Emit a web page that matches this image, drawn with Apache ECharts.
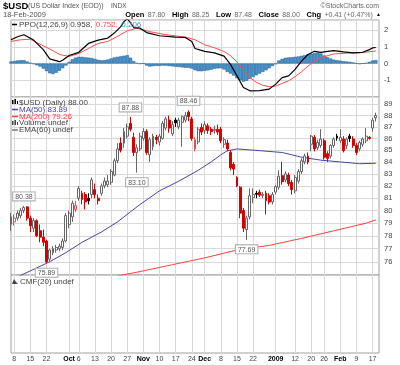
<!DOCTYPE html>
<html><head><meta charset="utf-8">
<script src="https://cdn.jsdelivr.net/npm/echarts@6/dist/echarts.min.js"></script>
<style>html,body{margin:0;padding:0;background:#fff}#c{width:400px;height:365px}</style>
</head><body><div id="c"></div>
<script>
// ---------- categories (trading days, Sep 5 2008 .. Feb 18 2009, plus one empty pad day) ----------
const dates = [
'09-05','09-08','09-09','09-10','09-11','09-12','09-15','09-16','09-17','09-18','09-19','09-22','09-23','09-24','09-25','09-26','09-29','09-30',
'10-01','10-02','10-03','10-06','10-07','10-08','10-09','10-10','10-13','10-14','10-15','10-16','10-17','10-20','10-21','10-22','10-23','10-24','10-27','10-28','10-29','10-30','10-31',
'11-03','11-04','11-05','11-06','11-07','11-10','11-11','11-12','11-13','11-14','11-17','11-18','11-19','11-20','11-21','11-24','11-25','11-26','11-28',
'12-01','12-02','12-03','12-04','12-05','12-08','12-09','12-10','12-11','12-12','12-15','12-16','12-17','12-18','12-19','12-22','12-23','12-24','12-26','12-29','12-30','12-31',
'01-02','01-05','01-06','01-07','01-08','01-09','01-12','01-13','01-14','01-15','01-16','01-20','01-21','01-22','01-23','01-26','01-27','01-28','01-29','01-30',
'02-02','02-03','02-04','02-05','02-06','02-09','02-10','02-11','02-12','02-13','02-17','02-18','02-19'];

// ---------- price (OHLC) ----------
const opens = [78.9,79.1,79.4,79.6,80.0,80.3,79.4,78.6,79.2,78.4,77.9,77.6,76.2,76.7,76.9,77.0,77.1,77.6,
78.9,79.5,80.1,81.0,81.4,81.3,81.0,81.3,81.7,81.0,81.4,82.0,82.1,82.3,82.9,84.1,85.6,85.6,86.2,87.3,86.1,84.8,85.1,
86.0,86.6,84.6,85.3,86.1,85.7,86.0,86.9,87.6,86.4,87.6,87.0,87.4,87.6,88.3,87.7,85.1,85.7,86.95,
86.7,87.1,86.8,86.7,86.8,86.8,85.5,85.6,84.8,83.8,82.7,81.9,80.0,78.5,79.5,81.05,81.4,81.5,81.2,81.4,81.2,80.7,
81.5,81.9,82.85,82.5,82.9,82.3,81.6,82.4,83.2,84.0,84.5,85.5,86.1,85.2,85.4,85.8,84.7,84.5,85.4,86.2,
85.8,85.95,85.4,86.2,85.95,85.4,85.1,85.5,85.8,86.1,86.9,87.80];
const highs = [79.8,79.7,80.0,80.2,80.38,80.35,79.6,79.4,79.3,78.9,78.5,77.7,77.0,77.2,77.3,77.4,77.8,79.8,
80.0,80.8,80.8,82.0,81.6,81.5,81.4,82.7,82.2,81.3,82.2,82.7,82.9,83.4,84.3,85.6,86.1,86.9,87.3,87.88,86.5,85.5,86.5,
86.9,86.8,86.1,86.4,86.3,86.4,87.5,87.9,88.0,87.5,87.8,87.8,88.0,88.3,88.46,87.9,86.1,87.0,87.3,
87.5,87.3,87.0,87.1,87.2,87.0,86.1,85.9,85.0,84.0,82.8,82.0,80.2,79.6,81.8,81.8,81.6,81.7,81.5,81.6,81.4,81.5,
82.1,83.3,84.0,83.2,83.1,82.5,82.9,83.4,84.3,84.7,84.8,86.3,86.3,85.9,86.8,86.0,84.9,85.5,86.1,86.4,
86.8,86.2,86.1,86.4,86.2,85.6,85.8,86.1,86.9,86.2,87.8,88.25];
const lows = [78.4,78.8,79.2,79.4,79.8,79.2,78.3,78.3,77.9,77.5,77.2,75.89,76.0,76.5,76.7,76.8,76.9,77.5,
78.6,79.1,79.9,80.8,80.5,80.1,80.5,81.0,81.0,80.5,81.2,81.8,81.9,82.1,82.8,83.9,84.8,85.2,86.0,86.6,84.5,83.10,84.9,
85.8,84.6,84.0,85.0,85.5,85.4,85.9,86.7,86.5,86.2,87.0,86.8,85.3,87.4,87.5,85.8,84.9,85.5,86.3,
86.4,86.4,86.3,86.4,86.3,85.6,85.2,84.9,83.3,82.9,81.9,79.4,78.3,77.69,79.3,80.6,81.0,81.1,81.0,79.7,80.5,80.5,
81.3,81.7,82.1,82.3,82.0,81.3,81.4,82.2,83.0,83.8,83.8,84.9,84.9,85.0,85.2,84.2,84.0,84.3,85.2,85.8,
85.6,84.8,85.1,85.7,85.2,84.6,84.9,85.3,85.6,85.9,86.6,87.48];
const closes = [79.5,79.4,79.8,80.0,80.25,79.4,78.8,79.2,78.0,77.9,77.5,76.0,76.9,77.0,77.1,77.2,77.6,79.6,
79.8,80.6,80.4,81.8,80.9,80.7,80.8,82.5,81.3,80.8,82.0,82.4,82.4,83.2,84.1,85.1,85.0,86.6,87.0,86.8,84.8,85.2,86.2,
86.6,84.8,85.9,86.2,85.9,86.2,87.3,87.7,86.9,87.2,87.35,87.6,87.9,88.0,87.9,86.0,85.9,86.8,86.55,
87.2,86.7,86.6,86.8,86.55,85.8,85.9,85.1,83.5,83.4,82.0,79.8,78.6,79.4,81.2,81.3,81.32,81.25,81.3,80.8,80.7,81.3,
81.95,82.8,82.35,83.0,82.2,81.7,82.7,83.2,84.1,84.5,84.0,86.2,85.1,85.65,85.95,84.4,84.3,85.4,85.95,86.05,
86.1,84.95,85.95,86.0,85.4,84.8,85.65,85.95,86.2,86.0,87.59,88.00];

// ---------- moving averages (read at points) ----------
const ma50Dates = ['09-05','09-10','09-17','09-23','09-30','10-07','10-15','10-22','10-28','10-31','11-10','11-18','11-26','12-03','12-08','12-10','12-15','12-22','01-06','01-14','01-23','02-02','02-10','02-18'];
const ma50Vals  = [74.6,74.97,75.54,76.0,76.7,77.5,78.3,79.1,79.9,80.5,81.6,82.4,83.3,84.0,84.6,84.95,85.1,85.0,84.8,84.4,84.15,84.0,83.85,83.89];
const ma200Dates = ['10-22','10-31','11-14','12-01','12-15','12-30','01-14','01-29','02-12','02-18'];
const ma200Vals  = [74.93,75.26,75.78,76.3,76.9,77.26,77.8,78.4,79.0,79.26];

// ---------- PPO(12,26,9) ----------
const ppoDates = ['09-05','09-09','09-11','09-16','09-19','09-23','09-26','09-29','10-01','10-06','10-09','10-14','10-17','10-21','10-23','10-24','10-27','10-28','10-29','10-31','11-04','11-10','11-17','11-20','11-24','11-25','12-01','12-04','12-09','12-11','12-15','12-17','12-19','12-24','12-30','01-02','01-06','01-08','01-12','01-14','01-16','01-21','01-23','01-27','01-29','02-03','02-06','02-11','02-13','02-17','02-18'];
const ppoVals  = [1.42,1.6,1.72,1.4,0.83,0.28,0.11,0.2,0.48,0.67,1.2,1.4,1.52,1.82,2.2,2.5,2.68,2.45,2.15,2.11,1.85,1.66,1.58,1.56,1.32,0.9,0.73,0.64,0.44,-0.05,-0.74,-1.43,-1.63,-1.62,-1.53,-1.23,-0.84,-0.74,-0.35,0.14,0.54,0.73,0.67,0.73,0.77,0.70,0.64,0.67,0.83,0.93,0.958];
const sigDates = ['09-05','09-10','09-15','09-18','09-23','09-26','10-01','10-06','10-09','10-14','10-17','10-22','10-27','10-30','11-05','11-12','11-20','11-25','12-01','12-04','12-09','12-11','12-15','12-17','12-19','12-23','12-26','12-30','01-02','01-06','01-08','01-12','01-14','01-16','01-21','01-23','01-27','01-29','02-04','02-10','02-13','02-18'];
const sigVals  = [1.32,1.42,1.45,1.15,0.87,0.54,0.42,0.6,0.9,1.2,1.32,1.62,1.95,2.11,1.9,1.72,1.58,1.42,1.12,0.94,0.72,0.47,0.09,-0.41,-0.84,-1.12,-1.3,-1.39,-1.35,-1.19,-1.03,-0.79,-0.49,-0.16,0.15,0.34,0.47,0.57,0.62,0.65,0.7,0.752];
const histVals = [0.12,0.15,0.18,0.2,0.2,0.12,0.04,-0.03,-0.1,-0.18,-0.3,-0.45,-0.58,-0.63,-0.55,-0.43,-0.28,-0.12,
0.1,0.25,0.35,0.4,0.4,0.37,0.35,0.33,0.28,0.22,0.19,0.2,0.24,0.3,0.36,0.4,0.43,0.46,0.5,0.35,0.14,0.03,-0.02,
0.0,-0.12,-0.18,-0.16,-0.14,-0.14,-0.12,-0.13,-0.15,-0.17,-0.19,-0.21,-0.23,-0.25,-0.25,-0.3,-0.4,-0.46,-0.46,
-0.43,-0.41,-0.37,-0.31,-0.29,-0.28,-0.36,-0.5,-0.6,-0.72,-0.88,-1.0,-1.08,-1.03,-0.92,-0.8,-0.7,-0.6,-0.5,-0.4,-0.28,-0.15,
-0.04,0.18,0.28,0.34,0.36,0.38,0.4,0.42,0.46,0.5,0.55,0.58,0.62,0.65,0.6,0.48,0.38,0.3,0.23,0.2,
0.17,0.14,0.12,0.1,0.06,0.01,-0.03,0.0,0.03,0.1,0.18,0.206];

// ---------- annotations ----------
const annDates  = ['09-11','09-22','10-28','10-30','11-21','12-18'];
const annValues = [80.38,75.89,87.88,83.10,88.46,77.69];
const annSide   = ['top','bottom','top','bottom','top','bottom'];

// ---------- ticks ----------
const xTickDates  = ['09-08','09-15','09-22','10-01','10-06','10-13','10-20','10-27','11-03','11-10','11-17','11-24','12-01','12-08','12-15','12-22','01-02','01-12','01-20','01-26','02-02','02-09','02-17'];
const xTickLabels = ['8','15','22','Oct','6','13','20','27','Nov','10','17','24','Dec','8','15','22','2009','12','20','26','Feb','9','17'];
const boldLabels  = ['Oct','Nov','Dec','2009','Feb'];
const priceTicks  = [76,77,78,79,80,81,82,83,84,85,86,87,88,89];

// ---------- build ----------
const FONT = '"Liberation Sans", Arial, sans-serif';
const GRID = '#d9d9d9';
const tickSet = new Set(xTickDates);
const isTick = (i, v) => tickSet.has(v);

const candleData = opens.map((o, i) => {
  const c = closes[i], prev = i > 0 ? closes[i - 1] : o;
  const up = c >= o, higher = c >= prev;
  let fill, line;
  if (up && higher) { fill = '#fff'; line = '#666'; }
  else if (up) { fill = '#fff'; line = '#e05050'; }
  else if (higher) { fill = '#000'; line = '#000'; }
  else { fill = '#d60000'; line = '#d60000'; }
  return { value: [o, c, lows[i], highs[i]], itemStyle: { color: fill, color0: fill, borderColor: line, borderColor0: line } };
});
const pairs = (ds, vs) => ds.map((d, i) => [d, vs[i]]);

const xAxisBase = (gi, showLabel) => ({
  type: 'category', gridIndex: gi, data: dates, boundaryGap: false,
  axisLine: { show: false }, axisTick: { show: false },
  splitLine: { show: true, interval: isTick, lineStyle: { color: GRID, width: 1 } },
  axisLabel: {
    show: showLabel, interval: isTick, margin: 3, fontSize: 7, color: '#444', fontFamily: FONT,
    formatter: v => { const t = xTickLabels[xTickDates.indexOf(v)]; return boldLabels.includes(t) ? '{b|' + t + '}' : t; },
    rich: { b: { fontWeight: 'bold', color: '#000', fontSize: 7, fontFamily: FONT } }
  }
});

const gridStyle = { left: 11, right: 21, show: true, borderColor: '#a0a0a0', borderWidth: 1, backgroundColor: '#fff' };

const T = (x, y, text, font, fill, align) => ({ type: 'text', x, y, silent: true, z: 100,
  style: { text, font, fill, align: align || 'left', verticalAlign: 'middle' } });
const L = (x1, y, x2, color, w) => ({ type: 'line', silent: true, z: 100, shape: { x1, y1: y, x2, y2: y }, style: { stroke: color, lineWidth: w || 1.5 } });

const chart = echarts.init(document.getElementById('c'), null, { renderer: 'canvas' });
chart.setOption({
  animation: false,
  backgroundColor: '#fff',
  grid: [
    Object.assign({ top: 20, height: 77 }, gridStyle),
    Object.assign({ top: 97, height: 178 }, gridStyle),
    Object.assign({ top: 275, height: 78 }, gridStyle)
  ],
  xAxis: [xAxisBase(0, false), xAxisBase(1, false), xAxisBase(2, true)],
  yAxis: [
    { type: 'value', gridIndex: 0, position: 'right', min: -2, max: 2.6, interval: 1,
      axisLine: { show: false }, axisTick: { show: false },
      axisLabel: { margin: 5, fontSize: 7.5, color: '#444', fontFamily: FONT, showMinLabel: false, showMaxLabel: false },
      splitLine: { lineStyle: { color: GRID } } },
    { type: 'log', logBase: 10, gridIndex: 1, position: 'right', min: 75, max: 89.65,
      axisLine: { show: false }, axisTick: { show: false, customValues: priceTicks },
      axisLabel: { customValues: priceTicks, margin: 5, fontSize: 7.5, color: '#444', fontFamily: FONT, formatter: v => String(Math.round(v)) },
      splitLine: { lineStyle: { color: GRID } } },
    { type: 'value', gridIndex: 2, position: 'right', min: 0, max: 1,
      axisLine: { show: false }, axisTick: { show: false }, axisLabel: { show: false }, splitLine: { show: false } }
  ],
  series: [
    { type: 'bar', xAxisIndex: 0, yAxisIndex: 0, data: histVals, barWidth: 3.3,
      itemStyle: { color: '#4a93cc', borderColor: '#1f5c8c', borderWidth: 0.5 }, z: 2 },
    { type: 'line', xAxisIndex: 0, yAxisIndex: 0, data: pairs(sigDates, sigVals), showSymbol: false,
      lineStyle: { color: '#ff4d4d', width: 1 }, z: 3 },
    { type: 'line', xAxisIndex: 0, yAxisIndex: 0, data: pairs(ppoDates, ppoVals), showSymbol: false,
      lineStyle: { color: '#000', width: 1.2 }, z: 4 },
    { type: 'line', xAxisIndex: 1, yAxisIndex: 1, data: pairs(ma50Dates, ma50Vals), showSymbol: false,
      lineStyle: { color: '#4646aa', width: 1 }, z: 2 },
    { type: 'line', xAxisIndex: 1, yAxisIndex: 1, data: pairs(ma200Dates, ma200Vals), showSymbol: false,
      lineStyle: { color: '#ff4040', width: 1 }, z: 2 },
    { type: 'candlestick', xAxisIndex: 1, yAxisIndex: 1, data: candleData, barWidth: 2.4, z: 5,
      itemStyle: { borderWidth: 1 },
      markPoint: {
        symbol: 'circle', symbolSize: 1, itemStyle: { color: 'rgba(0,0,0,0)' },
        label: { show: true, fontSize: 7, color: '#555', fontFamily: FONT, backgroundColor: '#fff',
          borderColor: '#aaa', borderWidth: 1, padding: [1, 2, 0, 2], formatter: p => p.value },
        data: annDates.map((d, i) => ({ coord: [d, annValues[i]], value: annValues[i].toFixed(2),
          label: { position: annSide[i], distance: 5 } }))
      } }
  ],
  graphic: [
    T(3, 6, '$USD', 'bold 9.5px ' + FONT, '#000'),
    T(28, 6.5, '(US Dollar Index (EOD))', '7px ' + FONT, '#555'),
    T(111, 6.5, 'INDX', '6.5px ' + FONT, '#555'),
    T(379, 6, '\u00A9StockCharts.com', '7px ' + FONT, '#666', 'right'),
    T(3, 15, '18-Feb-2009', '7.5px ' + FONT, '#555'),
    { type: 'text', x: 381, y: 15, silent: true, z: 100, style: {
      text: '{b|Open} {v|87.80}  {b|High} {v|88.25}  {b|Low} {v|87.48}  {b|Close} {v|88.00}  {b|Chg} {v|+0.41 (+0.47%)} {t|\u25B2}',
      align: 'right', verticalAlign: 'middle',
      rich: { b: { font: 'bold 7.5px ' + FONT, fill: '#000' }, v: { font: '7px ' + FONT, fill: '#666' }, t: { font: '5px ' + FONT, fill: '#000' } } } },
    // PPO legend
    L(12, 24.5, 17, '#000'),
    { type: 'text', x: 19, y: 24.5, silent: true, z: 100, style: { text: '{k|PPO(12,26,9) 0.958,} {r|0.752,} {b|0.206}', verticalAlign: 'middle',
      rich: { k: { font: '8px ' + FONT, fill: '#444' }, r: { font: '8px ' + FONT, fill: '#ff4d4d' }, b: { font: '8px ' + FONT, fill: '#4a93cc' } } } },
    // Main legend
    { type: 'rect', silent: true, z: 100, shape: { x: 12, y: 100, width: 1.5, height: 4 }, style: { fill: '#000' } },
    { type: 'rect', silent: true, z: 100, shape: { x: 14.5, y: 99, width: 1.5, height: 5 }, style: { fill: '#000' } },
    { type: 'rect', silent: true, z: 100, shape: { x: 17, y: 101, width: 1, height: 3 }, style: { fill: '#000' } },
    T(19, 102.5, '$USD (Daily) 88.00', '8px ' + FONT, '#444'),
    L(12, 109.5, 18, '#4646aa'), T(19, 109.5, 'MA(50) 83.89', '8px ' + FONT, '#4646aa'),
    L(12, 116.5, 18, '#ff4040'), T(19, 116.5, 'MA(200) 79.26', '8px ' + FONT, '#ff4040'),
    { type: 'rect', silent: true, z: 100, shape: { x: 12, y: 121, width: 1.5, height: 4 }, style: { fill: '#444' } },
    { type: 'rect', silent: true, z: 100, shape: { x: 14.5, y: 120, width: 1.5, height: 5 }, style: { fill: '#444' } },
    { type: 'rect', silent: true, z: 100, shape: { x: 17, y: 122, width: 1, height: 3 }, style: { fill: '#444' } },
    T(19, 123, 'Volume undef', '8px ' + FONT, '#444'),
    L(12, 130, 18, '#777'), T(19, 130, 'EMA(60) undef', '8px ' + FONT, '#444'),
    // CMF legend
    { type: 'polygon', silent: true, z: 100, shape: { points: [[12, 284], [14, 279], [16, 282], [18, 284]] }, style: { fill: '#444' } },
    T(20, 281.5, 'CMF(20) undef', '8px ' + FONT, '#444')
  ]
});
</script></body></html>
